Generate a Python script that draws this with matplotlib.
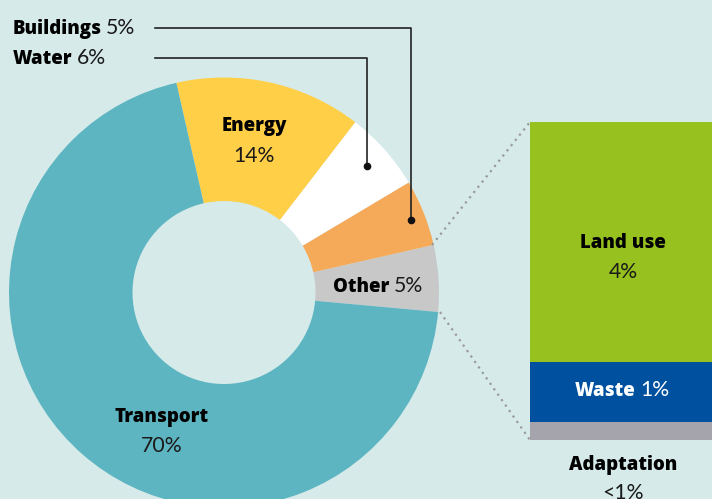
import matplotlib
matplotlib.use("Agg")
from matplotlib import pyplot as plt

# donut data (counterclockwise from the "Other" wedge)
pie_labels = ["Other", "Buildings", "Water", "Energy", "Transport"]
pie_values = [5, 5, 6, 14, 70]
pie_colors = ["#c8c8c8", "#f5aa5a", "#ffffff", "#ffcf48", "#5eb5c2"]

# breakdown of "Other"
bar_labels = ["Land use", "Waste", "Adaptation"]
bar_values = [4, 1, 0.3]
bar_colors = ["#96c11f", "#0050a0", "#a5a3ab"]
bar_texts = ["4%", "1%", "<1%"]

bg = "#d6ebe9"
W, H = 712, 499

plt.rcParams['font.family'] = ['Open Sans', 'DejaVu Sans']

fig = plt.figure(figsize=(W / 100, H / 100), dpi=100, facecolor=bg)
ax = fig.add_axes([0, 0, 1, 1])
ax.set_facecolor(bg)

# 画像座標(上から)→データ座標
def Y(py):
    return H - py

cx, cy = 224, Y(292.5)
R, r_in = 215, 91.5
ax.pie(pie_values, colors=pie_colors, startangle=-5.2, counterclock=True,
       radius=R, center=(cx, cy),
       wedgeprops=dict(width=R - r_in, linewidth=0))

# stacked bar for "Other"
scale = 60  # px per percent
bx0, bw = 530, 200
bottom = Y(440)
for v, c in zip(bar_values[::-1], bar_colors[::-1]):
    ax.bar(bx0, v * scale, width=bw, bottom=bottom, color=c, align='edge', linewidth=0)
    bottom += v * scale

# dotted connector lines
ax.plot([432, 530], [Y(245), Y(122)], color="#9a9a9a", ls=(0, (1, 2)), lw=1.6)
ax.plot([440, 530], [Y(312), Y(440)], color="#9a9a9a", ls=(0, (1, 2)), lw=1.6)

# leader lines for Buildings / Water
ax.plot([155, 411, 411], [Y(28), Y(28), Y(220)], color="#222222", lw=1.2)
ax.plot([155, 367, 367], [Y(58), Y(58), Y(166)], color="#222222", lw=1.2)
ax.plot([411, 367], [Y(220), Y(166)], 'o', color="#111111", ms=4.5)

ax.set_xlim(0, W)
ax.set_ylim(0, H)
ax.set_aspect('equal')
ax.axis('off')

renderer = fig.canvas.get_renderer()


def mixed(x, py, parts, ha='center', gap=4):
    # parts: (text, bold?, color)
    ts = []
    for s, b, c in parts:
        if b:
            t = ax.text(0, Y(py), s, fontsize=13.4, fontweight='heavy', color=c,
                        family=['Open Sans', 'DejaVu Sans'],
                        ha='left', va='baseline')
        else:
            t = ax.text(0, Y(py), s, fontsize=15.3, fontweight='normal', color=c,
                        family=['Lato', 'DejaVu Sans'], ha='left', va='baseline')
        ts.append(t)
    widths = [t.get_window_extent(renderer).width for t in ts]
    total = sum(widths) + gap * (len(ts) - 1)
    x0 = x - total / 2 if ha == 'center' else x
    for t, w in zip(ts, widths):
        t.set_x(x0)
        x0 += w + gap


K = '#1a1a1a'
# y values are baselines (pixels from top)
mixed(13, 34, [("Buildings", True, 'black'), ("5%", False, K)], ha='left')
mixed(13, 64, [("Water", True, 'black'), ("6%", False, K)], ha='left')
mixed(254, 131, [("Energy", True, 'black')])
mixed(254, 162, [("14%", False, K)])
mixed(333, 292, [("Other", True, 'black'), ("5%", False, K)], ha='left')
mixed(162, 422, [("Transport", True, 'black')])
mixed(162, 452, [("70%", False, K)])

mixed(623, 248, [(bar_labels[0], True, 'black')])
mixed(623, 278, [(bar_texts[0], False, K)])
mixed(622, 396, [(bar_labels[1], True, 'white'), (bar_texts[1], False, 'white')])
mixed(623, 470, [(bar_labels[2], True, 'black')])
mixed(623, 499, [(bar_texts[2], False, K)])

fig.savefig("out.png", dpi=100, facecolor=bg)
